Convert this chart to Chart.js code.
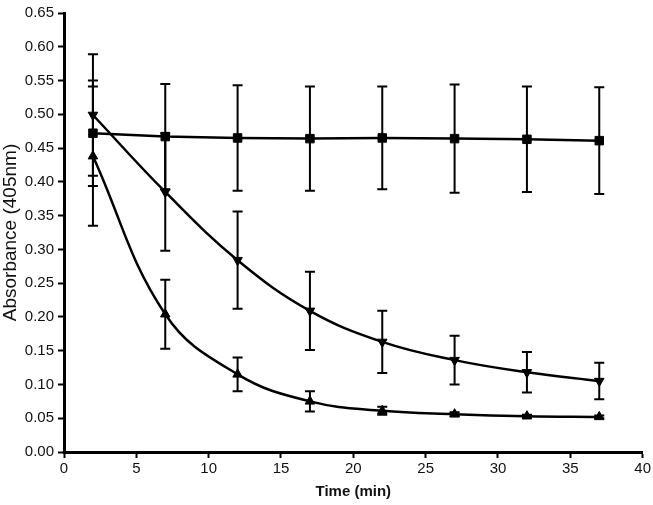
<!DOCTYPE html>
<html>
<head>
<meta charset="utf-8">
<script src="https://cdn.jsdelivr.net/npm/chart.js@4"></script>
<style>
  html, body { margin: 0; padding: 0; background: #fff; }
  #wrap { width: 653px; height: 505px; }
</style>
</head>
<body>
<div id="wrap"><canvas id="c" width="653" height="505"></canvas></div>
<script>
// ---- data ----
const times = [2, 7, 12, 17, 22, 27, 32, 37];

const squareMean = [0.472, 0.467, 0.465, 0.464, 0.465, 0.464, 0.463, 0.461];
const squareErr  = [0.078, 0.078, 0.078, 0.077, 0.076, 0.080, 0.078, 0.079];

const invTriMean = [0.499, 0.385, 0.284, 0.209, 0.163, 0.136, 0.118, 0.105];
const invTriErr  = [0.090, 0.087, 0.072, 0.058, 0.046, 0.036, 0.030, 0.027];

const triMean = [0.438, 0.204, 0.115, 0.075, 0.061, 0.056, 0.053, 0.052];
const triErr  = [0.103, 0.051, 0.025, 0.015, 0.006, 0.003, 0.002, 0.002];

const xTicks = [0, 5, 10, 15, 20, 25, 30, 35, 40];
const yTickLabels = ['0.00','0.05','0.10','0.15','0.20','0.25','0.30','0.35','0.40','0.45','0.50','0.55','0.60','0.65'];

const FONT = "'Liberation Sans', Arial, Helvetica, sans-serif";

function pts(xs, ys) { return xs.map((x, i) => ({ x: x, y: ys[i] })); }

const errorBars = {
  id: 'errorBars',
  beforeDatasetsDraw(chart) {
    const ctx = chart.ctx;
    const xs = chart.scales.x, ys = chart.scales.y;
    ctx.save();
    ctx.strokeStyle = '#000';
    ctx.lineWidth = 2;
    chart.data.datasets.forEach((ds) => {
      const errs = ds.errors;
      if (!errs) return;
      ds.data.forEach((p, j) => {
        const px = xs.getPixelForValue(p.x);
        const top = ys.getPixelForValue(p.y + errs[j]);
        const bot = ys.getPixelForValue(p.y - errs[j]);
        const hw = 5;
        ctx.beginPath();
        ctx.moveTo(px, top); ctx.lineTo(px, bot);
        ctx.moveTo(px - hw, top); ctx.lineTo(px + hw, top);
        ctx.moveTo(px - hw, bot); ctx.lineTo(px + hw, bot);
        ctx.stroke();
      });
    });
    ctx.restore();
  }
};

const common = {
  borderColor: '#000',
  backgroundColor: '#000',
  pointBackgroundColor: '#000',
  pointBorderColor: '#000',
  borderWidth: 2.5,
  pointBorderWidth: 1,
  tension: 0.4,
  fill: false
};

new Chart(document.getElementById('c'), {
  type: 'line',
  data: {
    datasets: [
      Object.assign({}, common, {
        label: 'Square',
        data: pts(times, squareMean),
        errors: squareErr,
        pointStyle: 'rect',
        pointRadius: 6,
        tension: 0
      }),
      Object.assign({}, common, {
        label: 'Inverted triangle',
        data: pts(times, invTriMean),
        errors: invTriErr,
        pointStyle: 'triangle',
        pointRotation: 180,
        pointRadius: 5.5
      }),
      Object.assign({}, common, {
        label: 'Triangle',
        data: pts(times, triMean),
        errors: triErr,
        pointStyle: 'triangle',
        pointRadius: 5.5
      })
    ]
  },
  options: {
    responsive: false,
    animation: false,
    devicePixelRatio: 1,
    layout: { padding: { top: 7, right: 10, left: 0, bottom: 0 } },
    plugins: { legend: { display: false }, tooltip: { enabled: false } },
    scales: {
      x: {
        type: 'linear',
        min: 0, max: 40,
        afterFit(s) { s.height = 53; },
        afterBuildTicks(s) { s.ticks = xTicks.map(v => ({ value: v })); },
        ticks: {
          color: '#111',
          padding: 2,
          font: { family: FONT, size: 15 },
          callback: (v) => String(v)
        },
        grid: { drawOnChartArea: false, drawTicks: true, tickLength: 6, tickWidth: 2, tickColor: '#000', color: '#000' },
        border: { display: true, width: 3, color: '#000' },
        title: {
          display: true, text: 'Time (min)', color: '#111',
          font: { family: FONT, size: 15, weight: 'bold' },
          padding: { top: 0, bottom: 4 }
        }
      },
      y: {
        type: 'linear',
        min: 0, max: 0.65,
        afterFit(s) { s.width = 64; },
        afterBuildTicks(s) { s.ticks = yTickLabels.map(t => ({ value: parseFloat(t) })); },
        ticks: {
          color: '#111',
          padding: 4,
          font: { family: FONT, size: 15 },
          callback: (v, i) => yTickLabels[i]
        },
        grid: { drawOnChartArea: false, drawTicks: true, tickLength: 6, tickWidth: 2, tickColor: '#000', color: '#000' },
        border: { display: true, width: 3, color: '#000' },
        title: {
          display: true, text: 'Absorbance (405nm)', color: '#111',
          font: { family: FONT, size: 19 },
          padding: { top: -1, bottom: 0 }
        }
      }
    }
  },
  plugins: [errorBars]
});
</script>
</body>
</html>
